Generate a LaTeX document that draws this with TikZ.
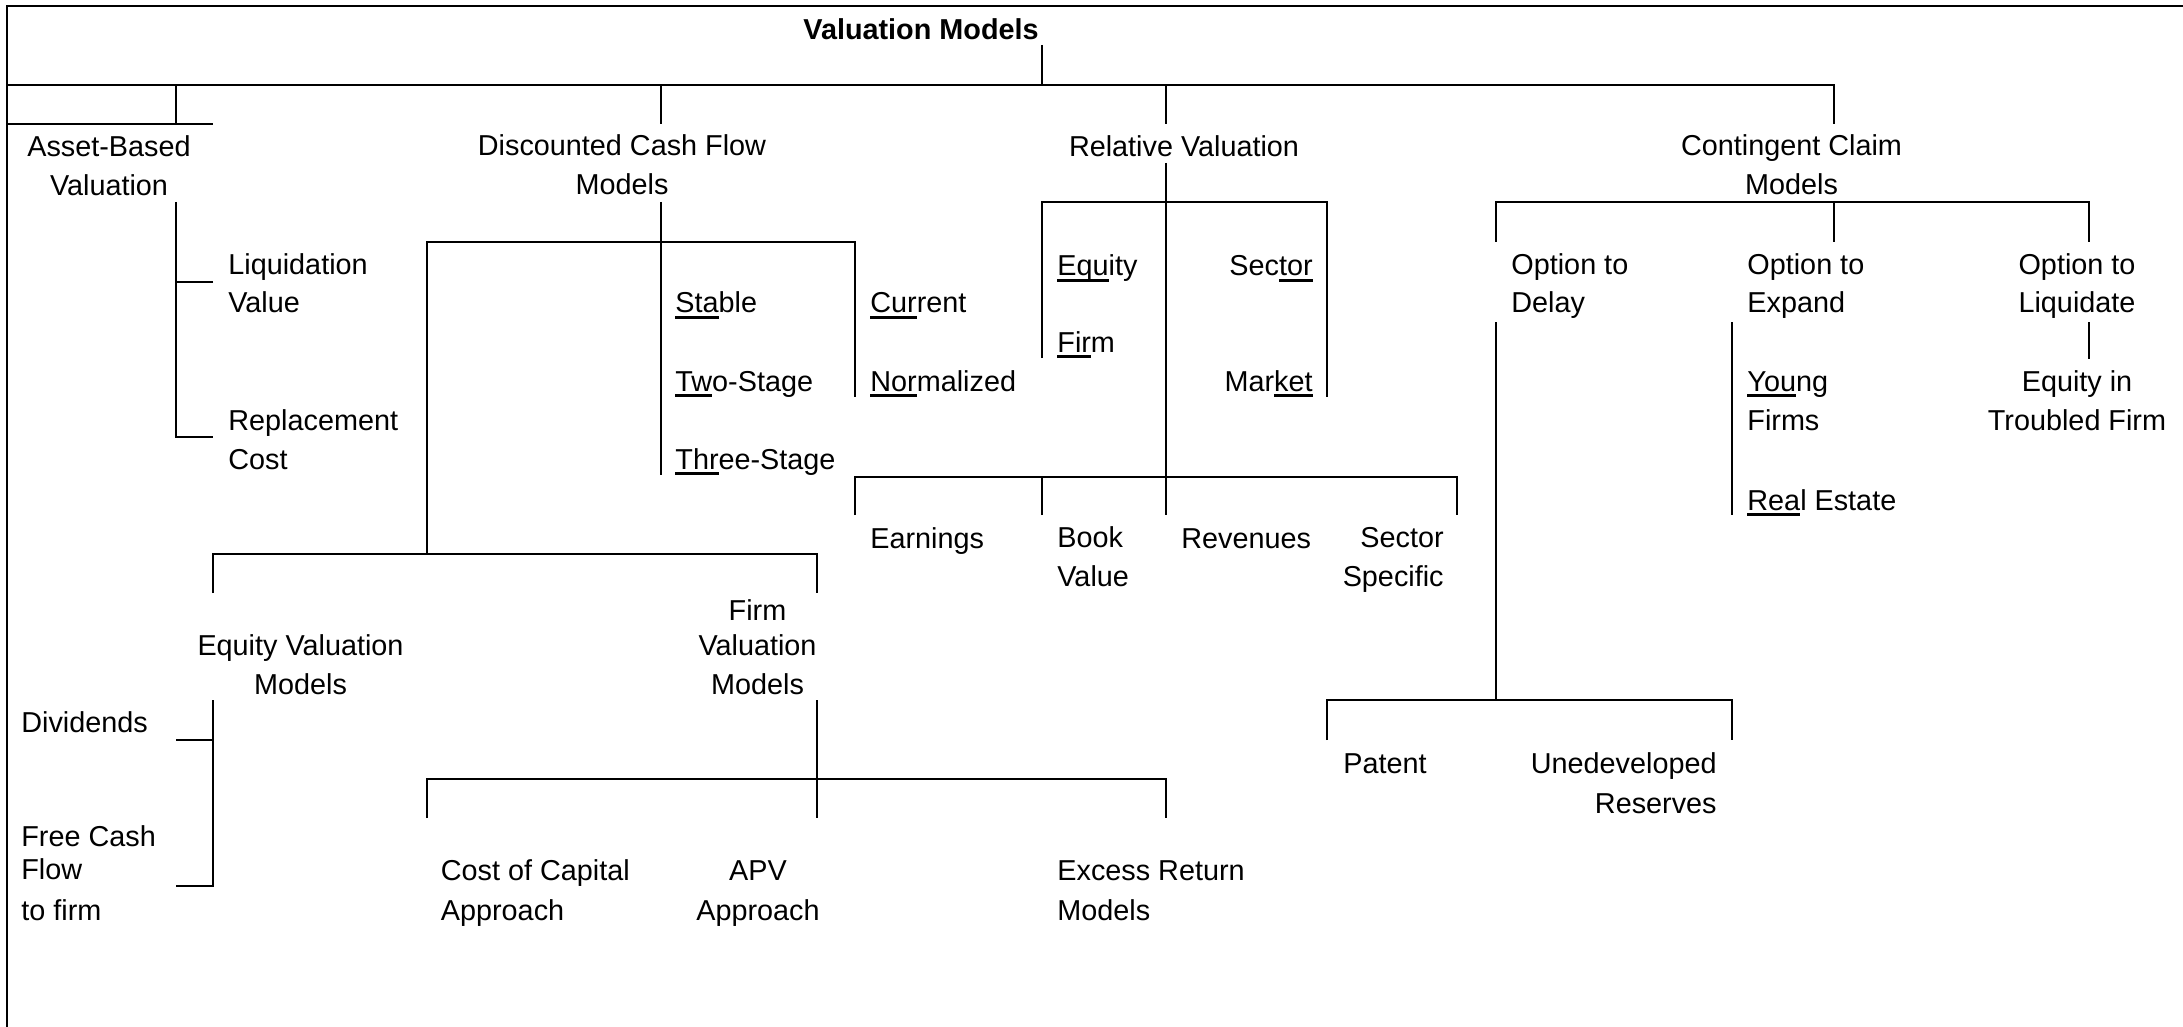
\documentclass[tikz,border=0pt]{standalone}
\usepackage{fontspec}
\setmainfont{Liberation Sans}
\newcommand\ulx[1]{\sbox0{#1}\rlap{\rule[-3pt]{\wd0}{1.4pt}}\usebox0}
\begin{document}
\begin{tikzpicture}[x=0.5pt,y=-0.5pt,
  ln/.style={line width=0.9pt},
  frm/.style={line width=1pt},
  txt/.style={inner sep=0pt, font=\fontsize{14.4pt}{19.5pt}\selectfont},
  tl/.style={txt, anchor=base west, align=left},
  tc/.style={txt, anchor=base, align=center},
  tr/.style={txt, anchor=base east, align=right}]
\useasboundingbox (0,0) rectangle (2183,1027);

% ---------- text (multi-line nodes are placed by the baseline of their last line) ----------
\node[tc, font=\fontsize{14.4pt}{19.5pt}\selectfont\bfseries] (title) at (921,39.3) {Valuation Models};
\node[tc] (asset) at (109,195.7) {Asset-Based\\Valuation};
\node[tc] (dcf) at (622,195) {Discounted Cash Flow\\Models};
\node[tc] (rel) at (1184,157) {Relative Valuation};
\node[tc] (cc) at (1791.5,195) {Contingent Claim\\Models};
\node[tl] (liq) at (228,313) {Liquidation\\Value};
\node[tl] (rep) at (228,469) {Replacement\\Cost};
\node[tl] (stab) at (675,313) {\ulx{Sta}ble};
\node[tl] (two) at (675,391) {\ulx{Tw}o-Stage};
\node[tl] (three) at (675,469) {\ulx{Thr}ee-Stage};
\node[tl] (cur) at (870,313) {\ulx{Cur}rent};
\node[tl] (norm) at (870,391) {\ulx{Nor}malized};
\node[tl] (eq) at (1057,276) {\ulx{Equ}ity};
\node[tl] (firm) at (1057,352) {\ulx{Fir}m};
\node[tr] (sec) at (1313,276) {Sec\ulx{tor}};
\node[tr] (mkt) at (1313,391) {Mar\ulx{ket}};
\node[tl] (earn) at (870,548) {Earnings};
\node[tl] (book) at (1057,586) {Book\\Value};
\node[tl] (rev) at (1181,548) {Revenues};
\node[tr] (secs) at (1444,586) {Sector\\Specific};
\node[tl] (odel) at (1511,313) {Option to\\Delay};
\node[tl] (oexp) at (1747,313) {Option to\\Expand};
\node[tc] (oliq) at (2077,313) {Option to\\Liquidate};
\node[tl] (young) at (1747,430) {\ulx{You}ng\\Firms};
\node[tl] (real) at (1747,510) {\ulx{Rea}l Estate};
\node[tc] (eqin) at (2077,430) {Equity in\\Troubled Firm};
\node[tc] (eqv) at (300.5,694.5) {Equity Valuation\\Models};
\node[tc] (fv) at (757.5,694.5) {Firm\\[-2pt]Valuation\\Models};
\node[tl] (div) at (21,732) {Dividends};
\node[tl] (fcf) at (21,920) {Free Cash\\[-2.75pt]Flow\\[0.75pt]to firm};
\node[tl] (coc) at (440.5,920) {Cost of Capital\\[0.5pt]Approach};
\node[tc] (apv) at (758,920) {APV\\[0.5pt]Approach};
\node[tl] (exc) at (1057,920) {Excess Return\\[0.5pt]Models};
\node[tl] (pat) at (1343,773) {Patent};
\node[tr] (une) at (1717,813) {Unedeveloped\\[0.5pt]Reserves};

% ---------- frame ----------
\coordinate (F1) at (7,1027); \coordinate (F2) at (7,6); \coordinate (F3) at (2183,6);
\draw[frm] (F1) -- (F2) -- (F3);

% ---------- level 0 ----------
\coordinate (T1) at (1042,45);  \coordinate (T2) at (1042,85);
\coordinate (B0) at (7,85);     \coordinate (B1) at (1834,85);
\coordinate (A0) at (176,85);   \coordinate (A1) at (176,124);
\coordinate (D0) at (661,85);   \coordinate (D1) at (661,124);
\coordinate (R0) at (1166,85);  \coordinate (R1) at (1166,124);
\coordinate (C1) at (1834,124);
\coordinate (AL) at (7,124);    \coordinate (AR) at (213,124);
\draw[ln] (T1) -- (T2);
\draw[ln] (B0) -- (B1) -- (C1);
\draw[ln] (A0) -- (A1);
\draw[ln] (D0) -- (D1);
\draw[ln] (R0) -- (R1);
\draw[ln] (AL) -- (AR);

% ---------- asset based ----------
\coordinate (AV0) at (176,202); \coordinate (AV1) at (176,437);
\coordinate (AT1) at (213,282); \coordinate (AT2) at (213,437);
\draw[ln] (AV0) -- (AV1) -- (AT2);
\draw[ln] (AT1) -- (AT1 -| AV0);

% ---------- DCF ----------
\coordinate (DV0) at (661,202); \coordinate (DV1) at (661,475);
\coordinate (DH0) at (427,242); \coordinate (DH1) at (855,242);
\coordinate (DH1b) at (855,397); \coordinate (DL) at (427,554);
\coordinate (EH0) at (213,554); \coordinate (EH1) at (817,554);
\coordinate (EH0b) at (213,593); \coordinate (EH1b) at (817,593);
\draw[ln] (DV0) -- (DV1);
\draw[ln] (DL) -- (DH0) -- (DH1) -- (DH1b);
\draw[ln] (EH0b) -- (EH0) -- (EH1) -- (EH1b);

% ---------- equity valuation ----------
\coordinate (EV0) at (213,700); \coordinate (EV1) at (213,886);
\coordinate (ET1) at (176,740); \coordinate (ET2) at (176,886);
\draw[ln] (EV0) -- (EV1) -- (ET2);
\draw[ln] (ET1) -- (ET1 -| EV0);

% ---------- firm valuation ----------
\coordinate (FV0) at (817,700); \coordinate (FV1) at (817,818);
\coordinate (FH0) at (427,779); \coordinate (FH1) at (1166,779);
\coordinate (FH0b) at (427,818); \coordinate (FH1b) at (1166,818);
\draw[ln] (FV0) -- (FV1);
\draw[ln] (FH0b) -- (FH0) -- (FH1) -- (FH1b);

% ---------- relative valuation ----------
\coordinate (RV0) at (1166,163); \coordinate (RV1) at (1166,515);
\coordinate (RH0) at (1042,202); \coordinate (RH1) at (1327,202);
\coordinate (RH0b) at (1042,358); \coordinate (RH1b) at (1327,397);
\coordinate (QH0) at (855,477);  \coordinate (QH1) at (1457,477);
\coordinate (Q0b) at (855,515);  \coordinate (Q1b) at (1042,515);
\coordinate (Q3b) at (1457,515);
\draw[ln] (RV0) -- (RV1);
\draw[ln] (RH0b) -- (RH0) -- (RH1) -- (RH1b);
\draw[ln] (Q0b) -- (QH0) -- (QH1) -- (Q3b);
\draw[ln] (Q1b) -- (Q1b |- QH0);

% ---------- contingent claim ----------
\coordinate (CV0) at (1834,202); \coordinate (CV1) at (1834,242);
\coordinate (CH0) at (1496,202); \coordinate (CH1) at (2089,202);
\coordinate (CH0b) at (1496,242); \coordinate (CH1b) at (2089,242);
\draw[ln] (CV0) -- (CV1);
\draw[ln] (CH0b) -- (CH0) -- (CH1) -- (CH1b);
\coordinate (OD0) at (1496,322); \coordinate (OD1) at (1496,700);
\coordinate (PH0) at (1327,700); \coordinate (PH1) at (1732,700);
\coordinate (PH0b) at (1327,740); \coordinate (PH1b) at (1732,740);
\draw[ln] (OD0) -- (OD1);
\draw[ln] (PH0b) -- (PH0) -- (PH1) -- (PH1b);
\coordinate (OE0) at (1732,322); \coordinate (OE1) at (1732,515);
\draw[ln] (OE0) -- (OE1);
\coordinate (OL0) at (2089,322); \coordinate (OL1) at (2089,359);
\draw[ln] (OL0) -- (OL1);
\end{tikzpicture}
\end{document}
